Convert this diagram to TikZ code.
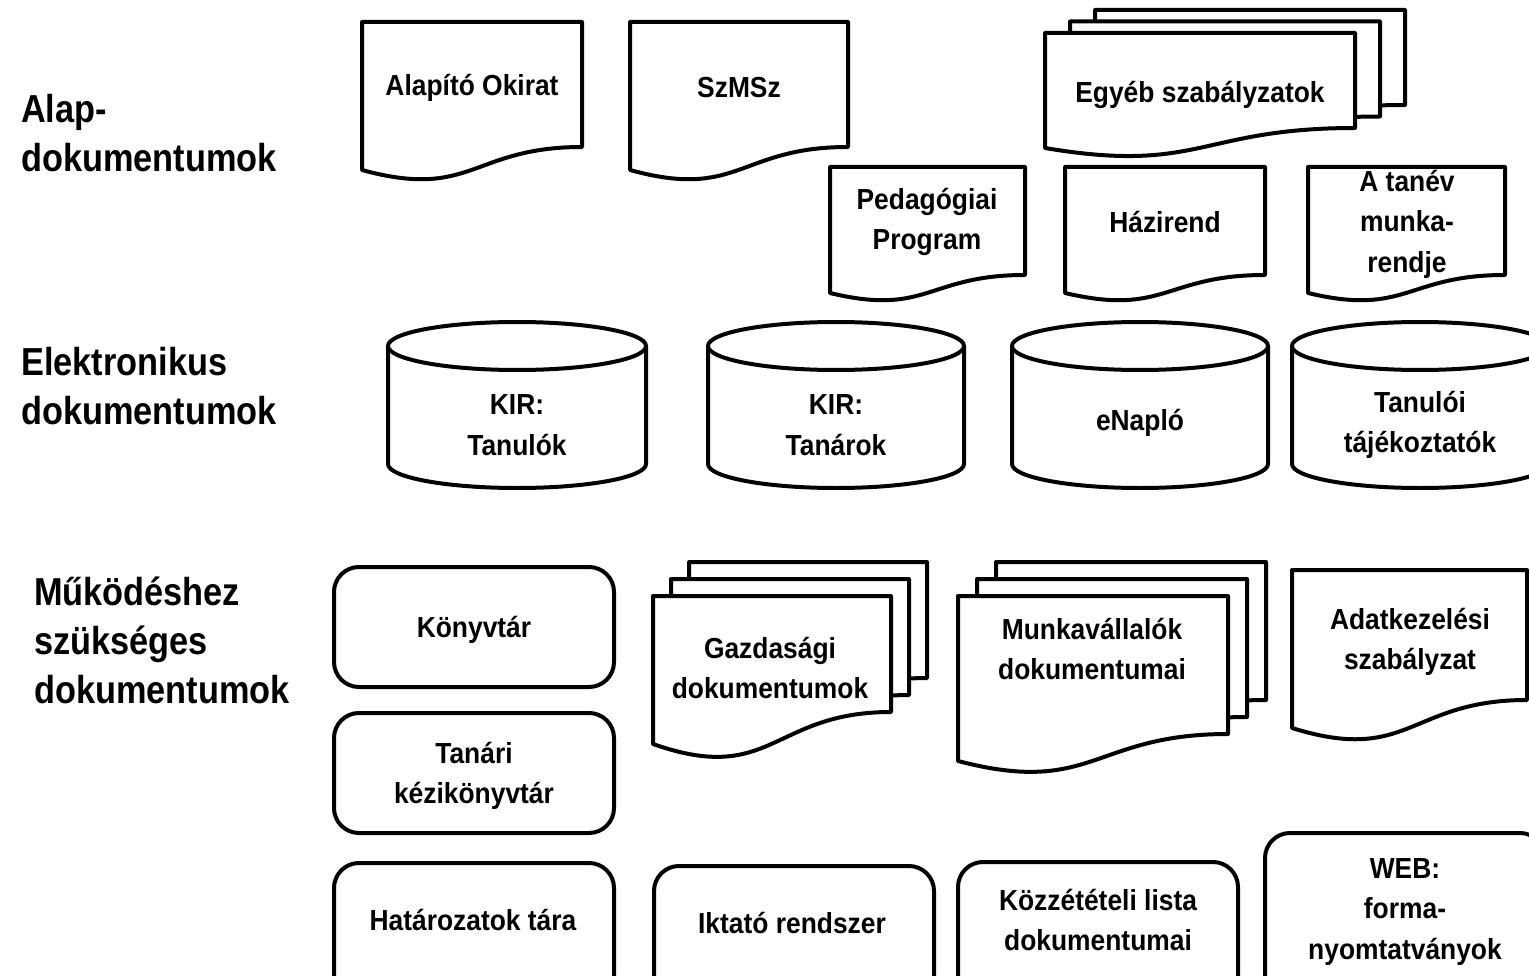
\documentclass[tikz,border=0pt]{standalone}
\usepackage{fontspec}
\newfontfamily\boxfont{Liberation Sans}[FakeStretch=0.91]
\newfontfamily\labfont{Liberation Sans}[FakeStretch=0.88]
\tikzset{
  shp/.style={draw=black, fill=white, line width=4pt, line join=round},
  txt/.style={font=\boxfont\bfseries\fontsize{29}{40.5}\selectfont, align=center, inner sep=0pt},
  lab/.style={font=\labfont\bfseries\fontsize{39}{49}\selectfont, align=left, inner sep=0pt, anchor=base west},
  rbox/.style={shp, rounded corners=25pt}
}
% x, y(top), w, hr (right side height), hl (left side height)
\newcommand\docshape[5]{%
  \filldraw[shp] (#1,#2) -- ({#1+#3},#2) -- ({#1+#3},{#2+#4})
    .. controls ({#1+0.5*#3},{#2+#4}) and ({#1+0.5*#3},{#2+#4+2.31*(#5-#4)}) .. (#1,{#2+#5}) -- cycle;}
% x, y, w, hr, hl, dx, dy
\newcommand\multidocshape[7]{%
  \docshape{#1+2*#6}{#2-2*#7}{#3}{#4}{#5}%
  \docshape{#1+#6}{#2-#7}{#3}{#4}{#5}%
  \docshape{#1}{#2}{#3}{#4}{#5}}
% x, w
\newcommand\cylshape[2]{%
  \filldraw[shp] (#1,346) -- (#1,464) arc[start angle=180, end angle=360, x radius={#2/2*1pt}, y radius=24pt] -- ({#1+#2},346);
  \draw[shp] ({#1+#2/2},346) ellipse [x radius={#2/2*1pt}, y radius=24pt];}
\begin{document}
\begin{tikzpicture}[x=1pt, y=-1pt]
\useasboundingbox (0,0) rectangle (1529,976);
\clip (0,0) rectangle (1529,976);
% left labels (anchored at the baseline of the last line)
\node[lab] (lab1) at (21,172) {Alap-\\dokumentumok};
\node[lab] (lab2) at (21,424) {Elektronikus\\dokumentumok};
\node[lab] (lab3) at (34,703) {Működéshez\\szükséges\\dokumentumok};
% row 1
\docshape{362}{22}{220}{125}{148}
\node[txt] (alap) at (472,88) {Alapító Okirat};
\docshape{630}{22}{218}{125}{148}
\node[txt] (szmsz) at (739,88) {SzMSz};
\multidocshape{1045}{33}{310}{95}{115}{25}{11.5}
\node[txt] (egyeb) at (1200,95) {Egyéb szabályzatok};
% row 2
\docshape{830}{167}{195}{108}{126}
\node[txt] (pedprog) at (927,222) {Pedagógiai\\Program};
\docshape{1065}{167}{200}{108}{126}
\node[txt] (hazirend) at (1165,222) {Házirend};
\docshape{1308}{167}{197}{108}{126}
\node[txt] (tanev) at (1407,224) {A tanév\\munka-\\rendje};
% cylinders
\cylshape{388}{258}
\node[txt] (kirtanulo) at (517,425) {KIR:\\Tanulók};
\cylshape{708}{256}
\node[txt] (kirtanar) at (836,425) {KIR:\\Tanárok};
\cylshape{1012}{256}
\node[txt] (enaplo) at (1140,423) {eNapló};
\cylshape{1292}{256}
\node[txt] (tajek) at (1420,425) {Tanulói\\tájékoztatók};
% row 4
\draw[rbox] (334,567) rectangle (614,687);
\node[txt] (konyvtar) at (474,630) {Könyvtár};
\draw[rbox] (334,713) rectangle (614,833);
\node[txt] (tanari) at (474,776) {Tanári\\kézikönyvtár};
\multidocshape{653}{596}{238}{116}{148}{18}{17}
\node[txt] (gazd) at (770,668) {Gazdasági\\dokumentumok};
\multidocshape{958}{596}{270}{138}{165}{19}{17}
\node[txt] (munka) at (1092,649) {Munkavállalók\\dokumentumai};
\docshape{1292}{570}{235}{130}{158}
\node[txt] (adat) at (1410,642) {Adatkezelési\\szabályzat};
% bottom row
\draw[rbox] (334,863) rectangle (614,1000);
\node[txt] (hatarozat) at (473,920) {Határozatok tára};
\draw[rbox] (654,866) rectangle (934,1000);
\node[txt] (iktato) at (792,923) {Iktató rendszer};
\draw[rbox] (958,862) rectangle (1238,1000);
\node[txt] (kozzetet) at (1098,920) {Közzétételi lista\\dokumentumai};
\draw[rbox] (1265,833) rectangle (1545,1000);
\node[txt] (web) at (1405,912) {WEB:\\forma-\\nyomtatványok};
\end{tikzpicture}
\end{document}
